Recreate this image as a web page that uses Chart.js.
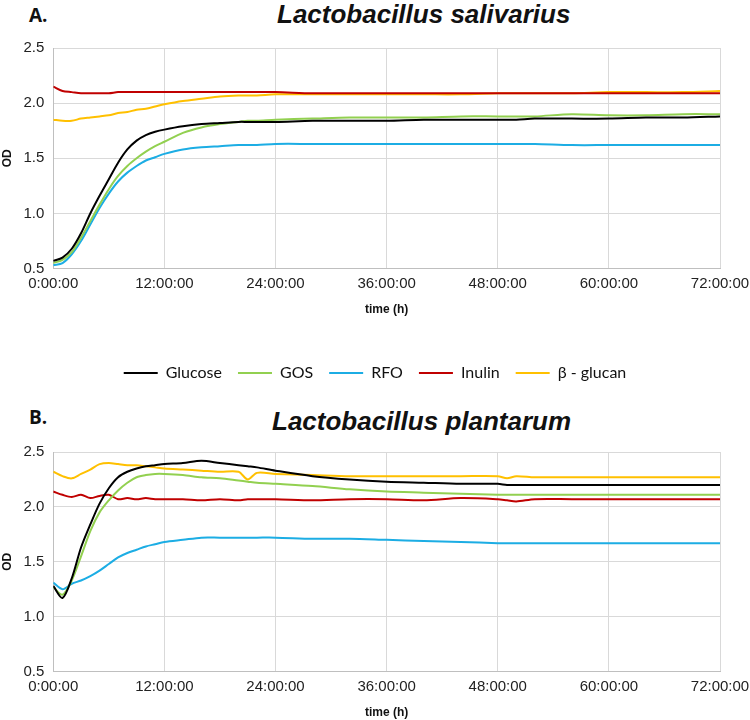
<!DOCTYPE html>
<html>
<head>
<meta charset="utf-8">
<script src="https://cdn.jsdelivr.net/npm/chart.js@4.4.1/dist/chart.umd.min.js"></script>
<style>
  body { margin: 0; background: #fff; width: 750px; height: 720px; position: relative; overflow: hidden; font-family: "Liberation Sans", Arial, sans-serif; }
  .panel { position: absolute; font-weight: bold; color: #111; white-space: nowrap; }
  .tag { font-family: "Open Sans", sans-serif; font-size: 19px; }
  .title { font-size: 26px; font-style: italic; }
  canvas { position: absolute; left: 0; }
</style>
</head>
<body>
<div class="panel tag" style="left:29px; top:2px;">A.</div>
<div class="panel title" style="left:277px; top:-1px;">Lactobacillus salivarius</div>
<canvas id="chart_a" width="750" height="361" style="top:30px;"></canvas>
<div class="panel tag" style="left:29px; top:404px;">B.</div>
<div class="panel title" style="left:272px; top:406px;">Lactobacillus plantarum</div>
<canvas id="chart_b" width="750" height="290" style="top:430px;"></canvas>
<script>
// sampling times (hours)
const hours = [0, 1, 2, 3, 4, 5, 6, 7, 8, 9, 10, 11, 12, 14, 16, 18, 20, 21, 22, 24, 28, 32, 36, 40, 44, 48, 49, 50, 52, 56, 60, 64, 68, 72];
const xTicks = [0, 12, 24, 36, 48, 60, 72];
const yTicks = [0.5, 1.0, 1.5, 2.0, 2.5];

const seriesNames = ['Glucose', 'GOS', 'RFO', 'Inulin', 'β - glucan'];
const seriesColors = ['#000000', '#92d050', '#1cade4', '#c00000', '#ffc000'];

// A. Lactobacillus salivarius
const salGlucose = [0.57, 0.60, 0.68, 0.82, 1.00, 1.16, 1.31, 1.46, 1.58, 1.66, 1.71, 1.74, 1.76, 1.79, 1.81, 1.82, 1.83, 1.83, 1.83, 1.83, 1.84, 1.84, 1.84, 1.85, 1.85, 1.85, 1.85, 1.85, 1.86, 1.86, 1.86, 1.87, 1.87, 1.88];
const salGOS = [0.55, 0.58, 0.65, 0.78, 0.93, 1.08, 1.22, 1.34, 1.43, 1.50, 1.56, 1.61, 1.65, 1.73, 1.78, 1.81, 1.83, 1.84, 1.84, 1.85, 1.86, 1.87, 1.87, 1.87, 1.88, 1.88, 1.88, 1.88, 1.88, 1.90, 1.89, 1.89, 1.90, 1.90];
const salRFO = [0.53, 0.55, 0.63, 0.75, 0.90, 1.05, 1.18, 1.29, 1.37, 1.43, 1.48, 1.51, 1.54, 1.58, 1.60, 1.61, 1.62, 1.62, 1.62, 1.63, 1.63, 1.63, 1.63, 1.63, 1.63, 1.63, 1.63, 1.63, 1.63, 1.62, 1.62, 1.62, 1.62, 1.62];
const salInulin = [2.15, 2.11, 2.10, 2.09, 2.09, 2.09, 2.09, 2.10, 2.10, 2.10, 2.10, 2.10, 2.10, 2.10, 2.10, 2.10, 2.10, 2.10, 2.10, 2.10, 2.09, 2.09, 2.09, 2.09, 2.09, 2.09, 2.09, 2.09, 2.09, 2.09, 2.09, 2.09, 2.09, 2.09];
const salGlucan = [1.85, 1.84, 1.84, 1.86, 1.87, 1.88, 1.89, 1.91, 1.92, 1.94, 1.95, 1.97, 1.99, 2.02, 2.04, 2.06, 2.07, 2.07, 2.07, 2.08, 2.08, 2.08, 2.08, 2.08, 2.08, 2.09, 2.09, 2.09, 2.09, 2.09, 2.10, 2.10, 2.10, 2.11];

// B. Lactobacillus plantarum
const plaGlucose = [1.28, 1.17, 1.35, 1.63, 1.84, 2.03, 2.17, 2.27, 2.32, 2.35, 2.37, 2.38, 2.39, 2.40, 2.42, 2.40, 2.38, 2.37, 2.36, 2.33, 2.28, 2.25, 2.23, 2.22, 2.21, 2.21, 2.20, 2.20, 2.20, 2.20, 2.20, 2.20, 2.20, 2.20];
const plaGOS = [1.27, 1.20, 1.33, 1.55, 1.78, 1.95, 2.06, 2.15, 2.22, 2.27, 2.29, 2.30, 2.30, 2.29, 2.27, 2.26, 2.24, 2.23, 2.22, 2.21, 2.19, 2.16, 2.14, 2.13, 2.12, 2.11, 2.11, 2.11, 2.11, 2.11, 2.11, 2.11, 2.11, 2.11];
const plaRFO = [1.31, 1.25, 1.30, 1.33, 1.37, 1.42, 1.48, 1.54, 1.58, 1.61, 1.64, 1.66, 1.68, 1.70, 1.72, 1.72, 1.72, 1.72, 1.72, 1.72, 1.71, 1.71, 1.70, 1.69, 1.68, 1.67, 1.67, 1.67, 1.67, 1.67, 1.67, 1.67, 1.67, 1.67];
const plaInulin = [2.14, 2.11, 2.09, 2.11, 2.08, 2.10, 2.11, 2.07, 2.08, 2.07, 2.08, 2.07, 2.07, 2.07, 2.06, 2.07, 2.06, 2.07, 2.07, 2.07, 2.06, 2.07, 2.07, 2.06, 2.08, 2.07, 2.06, 2.05, 2.07, 2.07, 2.07, 2.07, 2.07, 2.07];
const plaGlucan = [2.32, 2.28, 2.26, 2.30, 2.34, 2.39, 2.40, 2.39, 2.38, 2.38, 2.37, 2.36, 2.35, 2.34, 2.33, 2.32, 2.32, 2.25, 2.31, 2.30, 2.29, 2.28, 2.28, 2.28, 2.28, 2.28, 2.26, 2.28, 2.27, 2.27, 2.27, 2.27, 2.27, 2.27];

const tickFont = { family: '"Liberation Sans", Arial, sans-serif', size: 15 };
const titleFont = { family: '"Liberation Sans", Arial, sans-serif', size: 12, weight: 'bold' };

const makeDatasets = (seriesList) => seriesList.map((values, i) => ({
    label: seriesNames[i],
    data: values.map((v, j) => ({ x: hours[j], y: v })),
    borderColor: seriesColors[i],
    backgroundColor: seriesColors[i],
    borderWidth: 2,
    pointRadius: 0,
    tension: 0.3,
}));

const makeOptions = (showLegend, padTop, padBottom) => ({
    responsive: false,
    animation: false,
    layout: { padding: { top: padTop, right: 0, left: 0, bottom: 0 } },
    plugins: {
        legend: {
            display: showLegend,
            position: 'bottom',
            labels: {
                usePointStyle: true,
                pointStyle: 'line',
                pointStyleWidth: 34,
                boxHeight: 2,
                padding: 16,
                color: '#111',
                font: { family: 'Lato, "Open Sans", sans-serif', size: 16 },
            },
        },
        tooltip: { enabled: false },
    },
    scales: {
        x: {
            type: 'linear',
            min: 0,
            max: 72,
            afterBuildTicks: (axis) => { axis.ticks = xTicks.map((v) => ({ value: v })); },
            // let the last label hang a bit closer to the edge, like the original
            afterFit: (axis) => { axis.paddingRight = 30; },
            ticks: {
                color: '#222',
                font: tickFont,
                padding: 6,
                maxRotation: 0,
                callback: (v) => v + ':00:00',
            },
            grid: { color: '#d9d9d9', drawTicks: false },
            border: { color: '#bfbfbf' },
            title: {
                display: true,
                text: 'time (h)',
                color: '#111',
                font: titleFont,
                padding: { top: 4, bottom: padBottom },
            },
        },
        y: {
            min: 0.5,
            max: 2.5,
            afterBuildTicks: (axis) => { axis.ticks = yTicks.map((v) => ({ value: v })); },
            ticks: {
                color: '#222',
                font: tickFont,
                padding: 9,
                callback: (v) => v.toFixed(1),
            },
            grid: { color: '#d9d9d9', drawTicks: false },
            border: { color: '#bfbfbf' },
            title: {
                display: true,
                text: 'OD',
                color: '#111',
                font: titleFont,
                padding: { top: 0, bottom: 0 },
            },
        },
    },
});

new Chart(document.getElementById('chart_a'), {
    type: 'line',
    data: { datasets: makeDatasets([salGlucose, salGOS, salRFO, salInulin, salGlucan]) },
    options: makeOptions(true, 15, 32),
});

new Chart(document.getElementById('chart_b'), {
    type: 'line',
    data: { datasets: makeDatasets([plaGlucose, plaGOS, plaRFO, plaInulin, plaGlucan]) },
    options: makeOptions(false, 22, 0),
});
</script>
</body>
</html>
